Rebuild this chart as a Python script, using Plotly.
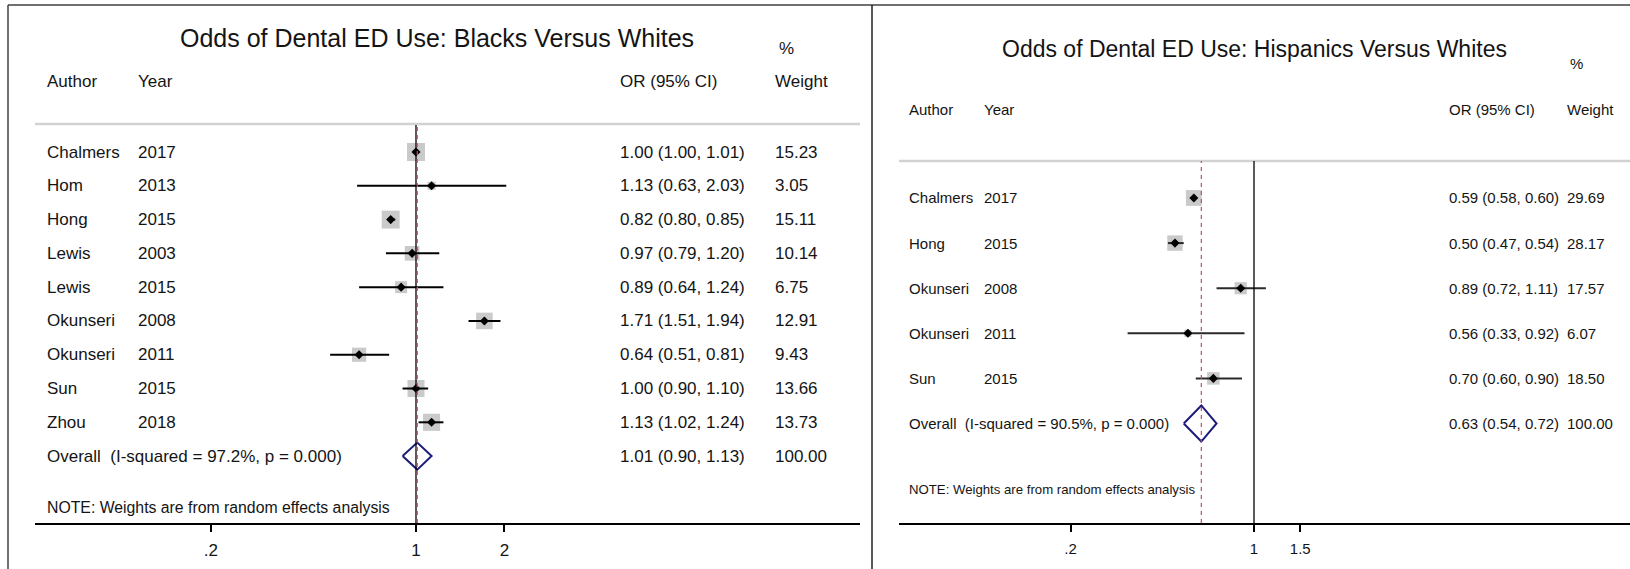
import math
import plotly.graph_objects as go

# ---- Data: Blacks versus Whites ----
b_authors = ["Chalmers", "Hom", "Hong", "Lewis", "Lewis", "Okunseri", "Okunseri", "Sun", "Zhou"]
b_years = [2017, 2013, 2015, 2003, 2015, 2008, 2011, 2015, 2018]
b_or = [1.00, 1.13, 0.82, 0.97, 0.89, 1.71, 0.64, 1.00, 1.13]
b_lo = [1.00, 0.63, 0.80, 0.79, 0.64, 1.51, 0.51, 0.90, 1.02]
b_hi = [1.01, 2.03, 0.85, 1.20, 1.24, 1.94, 0.81, 1.10, 1.24]
b_wt = [15.23, 3.05, 15.11, 10.14, 6.75, 12.91, 9.43, 13.66, 13.73]
b_overall = [1.01, 0.90, 1.13]
b_i2 = 97.2
b_ticks = [0.2, 1, 2]
b_ticktext = [".2", "1", "2"]

# ---- Data: Hispanics versus Whites ----
h_authors = ["Chalmers", "Hong", "Okunseri", "Okunseri", "Sun"]
h_years = [2017, 2015, 2008, 2011, 2015]
h_or = [0.59, 0.50, 0.89, 0.56, 0.70]
h_lo = [0.58, 0.47, 0.72, 0.33, 0.60]
h_hi = [0.60, 0.54, 1.11, 0.92, 0.90]
h_wt = [29.69, 28.17, 17.57, 6.07, 18.50]
h_overall = [0.63, 0.54, 0.72]
h_i2 = 90.5
h_ticks = [0.2, 1, 1.5]
h_ticktext = [".2", "1", "1.5"]

W, H = 1630, 569


def px(x):
    return x / W


def py(y):
    return 1 - y / H


TXT = "#141414"
FONT = "Liberation Sans, Arial, sans-serif"
NAVY = "#1c1c78"
RED = "#c0505c"
BOX = "#b4b4b4"

fig = go.Figure()


def add_panel(xa, ya, est, lo, hi, wt, overall, box_k, ci_color, ci_w):
    n = len(est)
    rows = list(range(n))
    # weight boxes
    fig.add_trace(go.Scatter(
        x=est, y=rows, mode="markers", xaxis=xa, yaxis=ya,
        marker=dict(symbol="square", color=BOX, size=[box_k * math.sqrt(w) for w in wt],
                    line=dict(width=0)),
        hoverinfo="skip", showlegend=False))
    # confidence intervals
    cx, cy = [], []
    for i in rows:
        cx += [lo[i], hi[i], None]
        cy += [i, i, None]
    fig.add_trace(go.Scatter(
        x=cx, y=cy, mode="lines", xaxis=xa, yaxis=ya,
        line=dict(color=ci_color, width=ci_w), hoverinfo="skip", showlegend=False))
    # point estimates
    fig.add_trace(go.Scatter(
        x=est, y=rows, mode="markers", xaxis=xa, yaxis=ya,
        marker=dict(symbol="diamond", color="black", size=7, line=dict(width=0)),
        hoverinfo="skip", showlegend=False))
    # pooled estimate diamond
    e, l, h = overall
    fig.add_trace(go.Scatter(
        x=[l, e, h, e, l], y=[n, n - 0.4, n, n + 0.4, n], mode="lines",
        xaxis=xa, yaxis=ya, line=dict(color=NAVY, width=2),
        hoverinfo="skip", showlegend=False))


add_panel("x", "y", b_or, b_lo, b_hi, b_wt, b_overall, 4.61, "black", 2)
add_panel("x2", "y2", h_or, h_lo, h_hi, h_wt, h_overall, 2.9, "#2a2a2a", 2)

ann = []


def txt(x, y, s, size, yref="y", xanchor="left"):
    ann.append(dict(x=x, y=y, xref="paper", yref=yref, text=s, showarrow=False,
                    xanchor=xanchor, yanchor="middle",
                    font=dict(size=size, family=FONT, color=TXT)))


def fmt(e, l, h):
    return "%.2f (%.2f, %.2f)" % (e, l, h)


# ---- left panel texts ----
FL = 17
txt(px(437), py(38), "Odds of Dental ED Use: Blacks Versus Whites", 25, "paper", "center")
txt(px(777), py(48), "%", FL, "paper")
txt(px(45), py(82), "Author", FL, "paper")
txt(px(136), py(82), "Year", FL, "paper")
txt(px(618), py(82), "OR (95% CI)", FL, "paper")
txt(px(773), py(82), "Weight", FL, "paper")
for i in range(len(b_or)):
    txt(px(45), i, b_authors[i], FL)
    txt(px(136), i, str(b_years[i]), FL)
    txt(px(618), i, fmt(b_or[i], b_lo[i], b_hi[i]), FL)
    txt(px(773), i, "%.2f" % b_wt[i], FL)
nb = len(b_or)
txt(px(45), nb, "Overall\u00a0 (I-squared = %.1f%%, p = 0.000)" % b_i2, FL)
txt(px(618), nb, fmt(*b_overall), FL)
txt(px(773), nb, "100.00", FL)
txt(px(45), nb + 1.53, "NOTE: Weights are from random effects analysis", 15.8)

# ---- right panel texts ----
FR = 15
txt(px(1254), py(49), "Odds of Dental ED Use: Hispanics Versus Whites", 23, "paper", "center")
txt(px(1568), py(64), "%", FR, "paper")
txt(px(907), py(109), "Author", FR, "paper")
txt(px(982), py(109), "Year", FR, "paper")
txt(px(1447), py(109), "OR (95% CI)", FR, "paper")
txt(px(1565), py(109), "Weight", FR, "paper")
for i in range(len(h_or)):
    txt(px(907), i, h_authors[i], FR, "y2")
    txt(px(982), i, str(h_years[i]), FR, "y2")
    txt(px(1447), i, fmt(h_or[i], h_lo[i], h_hi[i]), FR, "y2")
    txt(px(1565), i, "%.2f" % h_wt[i], FR, "y2")
nh = len(h_or)
txt(px(907), nh, "Overall\u00a0 (I-squared = %.1f%%, p = 0.000)" % h_i2, FR, "y2")
txt(px(1447), nh, fmt(*h_overall), FR, "y2")
txt(px(1565), nh, "100.00", FR, "y2")
txt(px(907), nh + 1.47, "NOTE: Weights are from random effects analysis", 13.2, "y2")

shapes = [
    # outer frames
    dict(type="line", xref="paper", yref="paper", x0=px(8), x1=1, y0=py(5), y1=py(5),
         line=dict(color="#404040", width=1.5)),
    dict(type="line", xref="paper", yref="paper", x0=px(8), x1=px(8), y0=py(5), y1=0,
         line=dict(color="#404040", width=1.5)),
    dict(type="line", xref="paper", yref="paper", x0=px(872), x1=px(872), y0=py(5), y1=0,
         line=dict(color="#202020", width=1.5)),
    # header separators
    dict(type="line", xref="paper", yref="paper", x0=px(35), x1=px(860), y0=py(124), y1=py(124),
         line=dict(color="#d2d2d2", width=2.5)),
    dict(type="line", xref="paper", yref="paper", x0=px(899), x1=1, y0=py(161), y1=py(161),
         line=dict(color="#d2d2d2", width=2.5)),
    # null lines
    dict(type="line", xref="x", yref="y domain", x0=1, x1=1, y0=0, y1=1,
         line=dict(color="black", width=1.3)),
    dict(type="line", xref="x2", yref="y2 domain", x0=1, x1=1, y0=0, y1=1,
         line=dict(color="black", width=1.3)),
    # pooled estimate lines
    dict(type="line", xref="x", yref="y domain", x0=b_overall[0], x1=b_overall[0], y0=0, y1=1,
         line=dict(color=RED, width=1.2, dash="4px,4px")),
    dict(type="line", xref="x2", yref="y2 domain", x0=h_overall[0], x1=h_overall[0], y0=0, y1=1,
         line=dict(color=RED, width=1.2, dash="4px,4px")),
]

axis_common = dict(type="log", showgrid=False, zeroline=False, showline=True,
                   linecolor="black", linewidth=1.5, ticks="outside", ticklen=7,
                   tickwidth=1.5, tickcolor="black", mirror=False, automargin=False)

fig.update_layout(
    template="none",
    width=W, height=H, margin=dict(l=0, r=0, t=0, b=0, autoexpand=False),
    paper_bgcolor="white", plot_bgcolor="white", showlegend=False,
    xaxis=dict(domain=[px(35), px(860)], range=[-1.2978, 1.5124], anchor="y",
               tickvals=b_ticks, ticktext=b_ticktext, ticklabelstandoff=4,
               tickfont=dict(size=FL, family=FONT, color=TXT), **axis_common),
    yaxis=dict(domain=[py(523), py(125)], range=[10.98, -0.799], visible=False,
               anchor="x", automargin=False),
    xaxis2=dict(domain=[px(899), 1], range=[-1.3524, 1.4324], anchor="y2",
                tickvals=h_ticks, ticktext=h_ticktext, ticklabelstandoff=4,
                tickfont=dict(size=FR, family=FONT, color=TXT), **axis_common),
    yaxis2=dict(domain=[py(523), py(161)], range=[7.206, -0.82], visible=False,
                anchor="x2", automargin=False),
    annotations=ann, shapes=shapes,
)

fig.write_html("out.html")
